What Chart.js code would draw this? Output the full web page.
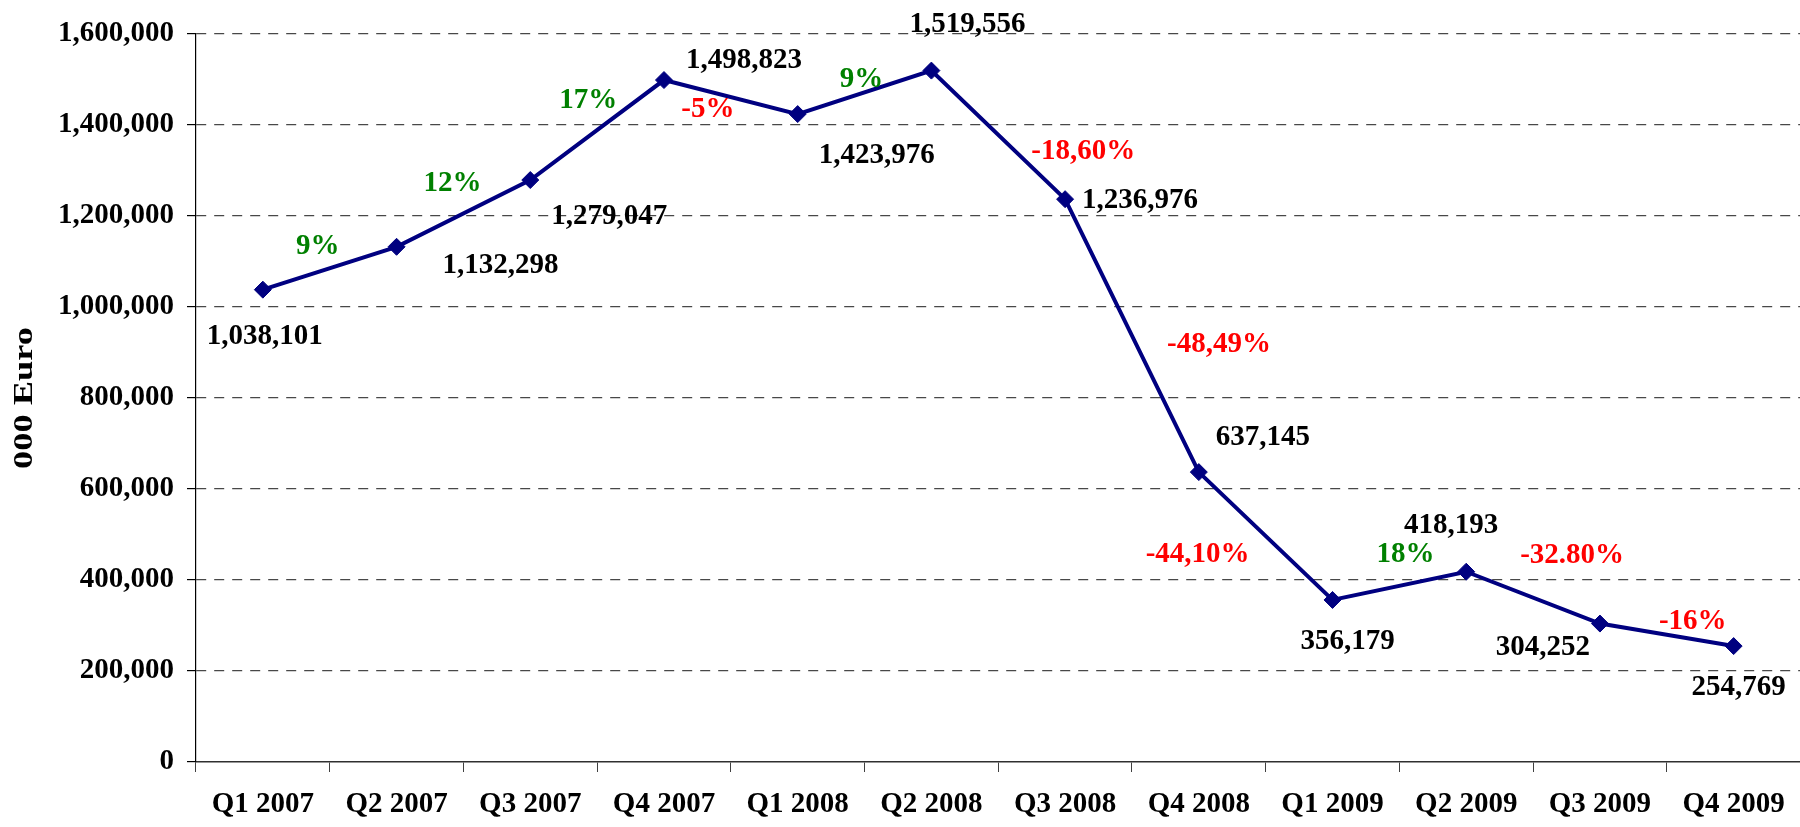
<!DOCTYPE html>
<html>
<head>
<meta charset="utf-8">
<script src="https://cdn.jsdelivr.net/npm/chart.js@4.4.0/dist/chart.umd.min.js"></script>
<style>
    html, body { margin: 0; padding: 0; background: #fff; overflow: hidden; }
    #wrap { width: 1810px; height: 827px; }
</style>
</head>
<body>
<div id="wrap"><canvas id="revenueChart" width="1810" height="827"></canvas></div>
<script>
// Data
let quarters = ["Q1 2007", "Q2 2007", "Q3 2007", "Q4 2007", "Q1 2008", "Q2 2008",
                "Q3 2008", "Q4 2008", "Q1 2009", "Q2 2009", "Q3 2009", "Q4 2009"];
let revenue = [1038101, 1132298, 1279047, 1498823, 1423976, 1519556,
               1236976, 637145, 356179, 418193, 304252, 254769];
let changeLabels = ["9%", "12%", "17%", "-5%", "9%", "-18,60%",
                    "-48,49%", "-44,10%", "18%", "-32.80%", "-16%"];
let yMax = 1600000;
let yStep = 200000;
let yTitle = "000 Euro";

// Where the labels sit, relative to their point / segment middle
let valueOffsets = [[2, 47], [104, 19], [79, 36], [80, -20], [79, 41], [36, -46],
                    [75, 1], [64, -35], [15, 42], [-15, -46], [-57, 24], [5, 41]];
let changeOffsets = [[-12, -22], [-11, -30], [-9, -30], [-23, 12], [-3, -13], [85, 17],
                     [87, 9], [-68, 18], [6, -31], [39, -42], [26, -13]];

let labelFont = "bold 29px 'Liberation Serif', 'Times New Roman', serif";

// Draws the value labels, the % change labels and the axis title
let labelPlugin = {
    id: "labels",
    afterDatasetsDraw(chart) {
        let ctx = chart.ctx;
        let pts = chart.getDatasetMeta(0).data;
        ctx.save();
        ctx.font = labelFont;
        ctx.textAlign = "center";
        ctx.textBaseline = "middle";

        // Values
        ctx.fillStyle = "#000";
        pts.forEach(function (p, i) {
            ctx.fillText(revenue[i].toLocaleString("en-US"),
                p.x + valueOffsets[i][0], p.y + valueOffsets[i][1]);
        });

        // Change between quarters
        changeLabels.forEach(function (txt, i) {
            let a = pts[i], b = pts[i + 1];
            ctx.fillStyle = txt.startsWith("-") ? "#ff0000" : "#008000";
            ctx.fillText(txt, (a.x + b.x) / 2 + changeOffsets[i][0],
                (a.y + b.y) / 2 + changeOffsets[i][1]);
        });

        // Y axis title (a bit stretched, like the original)
        let area = chart.chartArea;
        ctx.fillStyle = "#000";
        ctx.font = "bold 28px 'Liberation Serif', serif";
        ctx.translate(25, (area.top + area.bottom) / 2);
        ctx.rotate(-Math.PI / 2);
        ctx.scale(1.3, 1);
        ctx.fillText(yTitle, 0, 0);
        ctx.restore();
    }
};

let ctx = document.getElementById("revenueChart").getContext("2d");

let chart = new Chart(ctx, {
    type: "line",
    data: {
        labels: quarters,
        datasets: [{
            data: revenue,
            borderColor: "#000080",
            backgroundColor: "#000080",
            borderWidth: 4,
            pointStyle: "rectRot",
            pointRadius: 8.5,
            pointBorderWidth: 1,
            tension: 0
        }]
    },
    options: {
        responsive: false,
        animation: false,
        layout: { padding: { top: 34, left: 0, right: 0, bottom: 0 } },
        plugins: {
            legend: { display: false },
            tooltip: { enabled: false }
        },
        scales: {
            x: {
                offset: true,
                grid: {
                    offset: true,
                    drawOnChartArea: false,
                    tickLength: 10,
                    tickColor: "#404040"
                },
                border: { color: "#303030", width: 1.5 },
                ticks: {
                    color: "#000",
                    padding: 15,
                    maxRotation: 0,
                    font: { family: "'Liberation Serif', serif", size: 29, weight: "bold" }
                },
                afterFit(scale) { scale.height = 65; }
            },
            y: {
                min: 0,
                max: yMax,
                ticks: {
                    stepSize: yStep,
                    color: "#000",
                    padding: 13,
                    font: { family: "'Liberation Serif', serif", size: 29, weight: "bold" },
                    callback: function (v) { return v.toLocaleString("en-US"); }
                },
                grid: {
                    // leave the zero line to the solid x axis
                    color: function (c) { return c.tick && c.tick.value === 0 ? "rgba(0,0,0,0)" : "#484848"; },
                    tickColor: "#000",
                    tickLength: 9,
                    tickBorderDash: [],
                    lineWidth: 1.2
                },
                border: { color: "#000", width: 1.2, dash: [10, 8] },
                afterFit(scale) { scale.width = 196; }
            }
        }
    },
    plugins: [labelPlugin]
});
</script>
</body>
</html>
